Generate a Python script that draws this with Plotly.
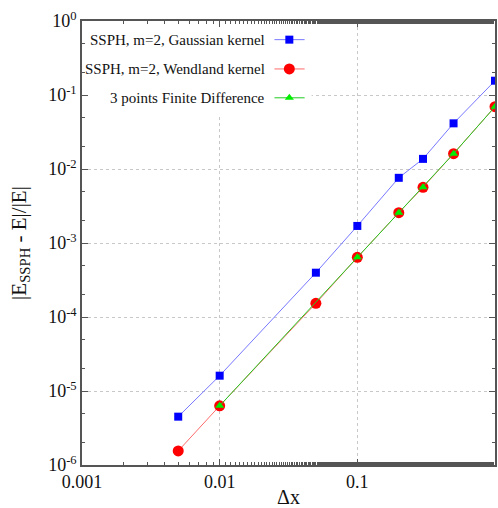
import plotly.graph_objects as go

# ---- data ----
dx_ssph = [0.005, 0.01, 0.05, 0.1, 0.2, 0.3, 0.5, 1.0]
err_gauss = [4.5e-6, 1.61e-5, 3.97e-4, 1.70e-3, 7.6e-3, 1.37e-2, 4.14e-2, 0.156]
err_wend = [1.55e-6, 6.3e-6, 1.53e-4, 6.4e-4, 2.57e-3, 5.65e-3, 1.61e-2, 6.95e-2]
dx_fd = [0.01, 0.1, 0.2, 0.3, 0.5, 1.0]
err_fd = [6.3e-6, 6.4e-4, 2.57e-3, 5.65e-3, 1.61e-2, 6.95e-2]

x_tickvals = [0.001, 0.01, 0.1, 1]
x_ticktext = ["0.001", "0.01", "0.1", "1"]
y_tickvals = [1e-6, 1e-5, 1e-4, 1e-3, 1e-2, 1e-1, 1]
y_ticktext = ["10<sup>-6</sup>", "10<sup>-5</sup>", "10<sup>-4</sup>", "10<sup>-3</sup>",
              "10<sup>-2</sup>", "10<sup>-1</sup>", "10<sup>0</sup>"]

legend_names = ["SSPH, m=2, Gaussian kernel", "SSPH, m=2, Wendland kernel", "3 points Finite Difference"]

FONT = "Liberation Serif, Times New Roman, serif"

series = [
    (dx_ssph, err_gauss, "#7878ff", "#0000ff", "square", 8),
    (dx_ssph, err_wend, "#ff6a6a", "#ff0000", "circle", 11),
    (dx_fd, err_fd, "#22cc22", "#00ee00", "triangle-up", 8),
]

fig = go.Figure()
for (xs, ys, lc, mc, sym, sz), name in zip(series, legend_names):
    fig.add_trace(go.Scatter(
        x=xs, y=ys, mode="lines+markers", name=name,
        line=dict(color=lc, width=1),
        marker=dict(color=mc, symbol=sym, size=sz, line=dict(width=0)),
        showlegend=False,
    ))

# ---- manual legend (text right, sample to the right), on an overlay [0,1] axis ----
leg_y = [0.958, 0.892, 0.827]
fig.add_trace(go.Scatter(
    x=[0, 0.556, 0.556, 0, 0], y=[0.788, 0.788, 1.0, 1.0, 0.788], xaxis="x2", yaxis="y2",
    mode="lines", fill="toself", fillcolor="white", line=dict(width=0, color="white"),
    showlegend=False, hoverinfo="skip"))
annotations = []
for (xs, ys, lc, mc, sym, sz), name, ly in zip(series, legend_names, leg_y):
    annotations.append(dict(text=name, xref="paper", yref="paper", x=0.447, y=ly,
                            xanchor="right", yanchor="middle", showarrow=False,
                            font=dict(family=FONT, size=15, color="#111")))
    fig.add_trace(go.Scatter(
        x=[0.466, 0.539], y=[ly, ly], xaxis="x2", yaxis="y2", mode="lines",
        line=dict(color=lc, width=1), showlegend=False, hoverinfo="skip"))
    fig.add_trace(go.Scatter(
        x=[0.502], y=[ly], xaxis="x2", yaxis="y2", mode="markers",
        marker=dict(color=mc, symbol=sym, size=sz, line=dict(width=0)),
        showlegend=False, hoverinfo="skip"))

axis_common = dict(
    type="log", showline=True, linecolor="#555", linewidth=1.5, mirror="ticks",
    ticks="inside", ticklen=6, tickcolor="#555", tickwidth=1,
    showgrid=True, gridcolor="#c8c8c8", griddash="dot", gridwidth=1,
    zeroline=False, automargin=False,
    tickfont=dict(family=FONT, size=18, color="#111"),
    minor=dict(ticks="inside", ticklen=3, tickcolor="#555", showgrid=False),
)

fig.update_layout(
    width=498, height=508,
    margin=dict(l=82, r=3, t=21, b=43),
    paper_bgcolor="white", plot_bgcolor="white",
    font=dict(family=FONT, color="#111"),
    xaxis=dict(**axis_common, range=[-3, 0], tickvals=x_tickvals, ticktext=x_ticktext,
               title=dict(text="Δx", font=dict(family=FONT, size=20, color="#111"), standoff=4)),
    yaxis=dict(**axis_common, range=[-6, 0], tickvals=y_tickvals, ticktext=y_ticktext,
               title=dict(text="|E<sub>SSPH</sub> - E|/|E|", font=dict(family=FONT, size=21, color="#111"),
                          standoff=16)),
    xaxis2=dict(overlaying="x", range=[0, 1], visible=False, fixedrange=True),
    yaxis2=dict(overlaying="y", range=[0, 1], visible=False, fixedrange=True, anchor="x2"),
    annotations=annotations,
    showlegend=False,
)

fig.write_html("out.html")
